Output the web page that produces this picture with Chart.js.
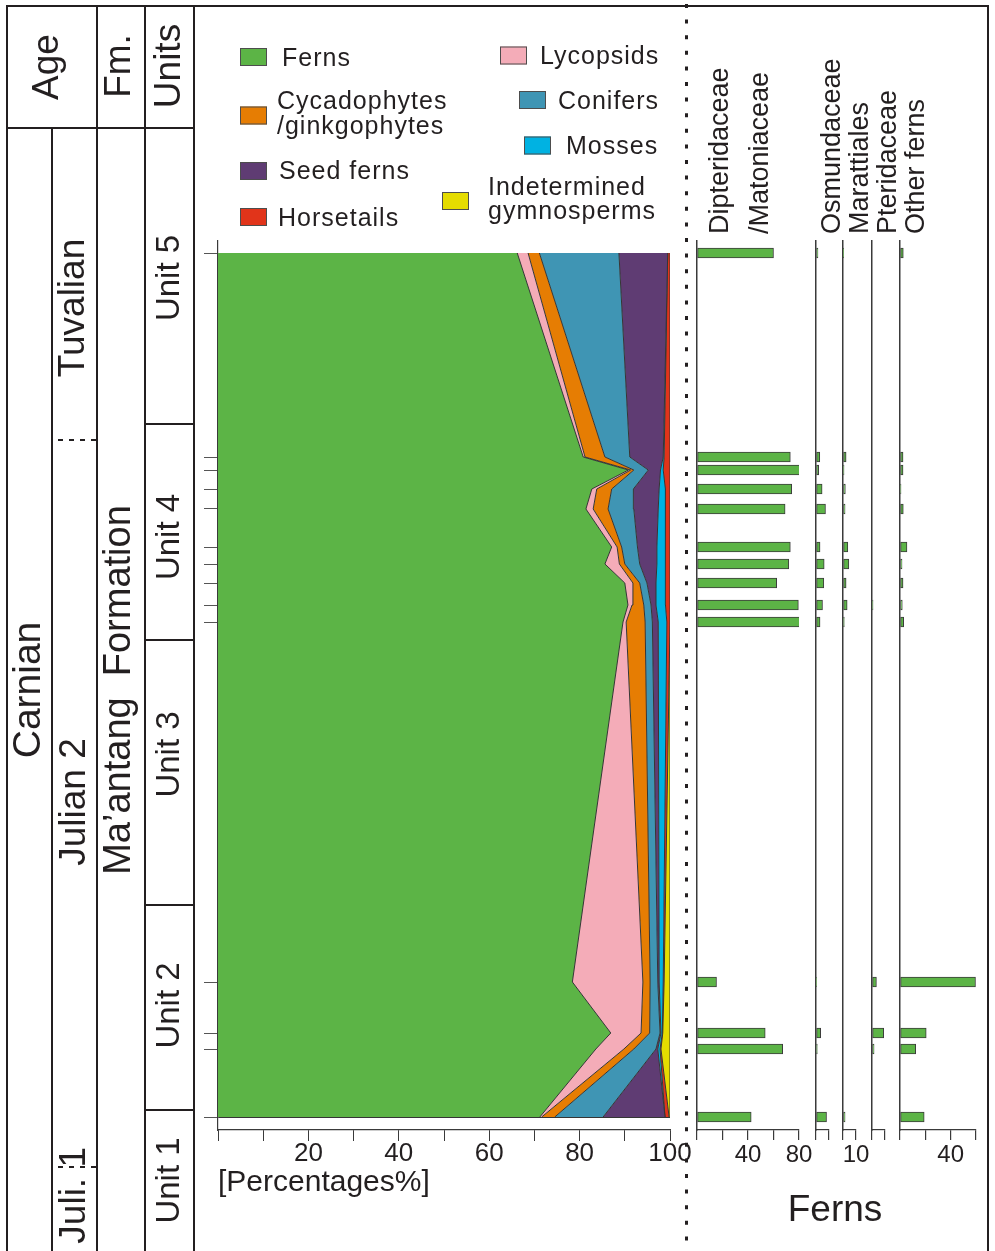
<!DOCTYPE html>
<html lang="en">
<head>
<meta charset="utf-8">
<title>Ma’antang Formation – plant group abundances</title>
<script src="https://cdn.jsdelivr.net/npm/chart.js@4.4.1/dist/chart.umd.min.js"></script>
<style>
  html, body { margin: 0; padding: 0; background: #fff; }
  #page { position: relative; width: 995px; height: 1251px; overflow: hidden; background: #fff; }
  #page canvas { position: absolute; top: 0; }
</style>
</head>
<body>
<div id="page"><canvas id="main" width="995" height="1251" style="left:0"></canvas></div>
<script>
// ---- Section and samples ------------------------------------------------
// Sample heights (m above the lowest sample), lowest first.
const sampleHeights = [0, 17, 21, 33.75, 123.75, 128, 133.5, 138.25, 142.5, 152, 157, 161.75, 165, 216];

// Contacts between Unit 1|2, 2|3, 3|4 and 4|5 (m).
const unitNames = ['Unit 1', 'Unit 2', 'Unit 3', 'Unit 4', 'Unit 5'];
const unitContacts = [1.75, 53, 119.25, 173.25];
// Substage contacts (m): Julian 1|Julian 2 and Julian 2|Tuvalian.
const substageContacts = [-12.5, 169.25];

// ---- Relative abundance of plant groups (%), same order as sampleHeights
const groupNames = ['Ferns', 'Lycopsids', 'Cycadophytes\n/ginkgophytes', 'Conifers',
  'Seed ferns', 'Mosses', 'Horsetails', 'Indetermined\ngymnosperms'];
const ferns            = [71.2, 83.6, 86.9, 78.4, 89.6, 90.7, 90.0, 85.6, 87.1, 81.4, 82.7, 90.8, 80.8, 66.2];
const lycopsids        = [0.4, 6.2, 6.7, 15.6, 0.7, 0.9, 1.8, 3.2, 1.2, 1.6, 1.1, 0.5, 0.4, 2.4];
const cycadophytes     = [2.9, 2.2, 1.9, 1.6, 4.2, 2.6, 1.5, 1.2, 1.0, 3.3, 3.3, 0.7, 4.4, 2.5];
const conifers         = [10.7, 4.9, 2.3, 1.7, 1.6, 1.6, 1.6, 3.3, 3.5, 5.7, 4.8, 3.2, 5.5, 17.6];
const seedFerns        = [13.7, 0.4, 0.2, 0.3, 1.3, 1.1, 2.0, 3.8, 4.3, 5.4, 5.7, 2.7, 7.4, 10.8];
const mosses           = [0, 0.5, 0.3, 0.9, 1.9, 2.1, 2.0, 1.8, 2.0, 1.7, 1.3, 0.6, 0.2, 0];
const horsetails       = [0.9, 0.2, 0.1, 0.2, 0.7, 1.0, 1.1, 1.1, 0.9, 0.9, 1.1, 1.5, 1.3, 0.5];
const indetGymnosperms = [0.2, 2.0, 1.6, 1.3, 0, 0, 0, 0, 0, 0, 0, 0, 0, 0];
const percentTickLabels = [20, 40, 60, 80, 100];

// ---- Fern families (%), same order as sampleHeights ---------------------
const fernTaxa = ['Dipteridaceae\n/Matoniaceae', 'Osmundaceae', 'Marattiales', 'Pteridaceae', 'Other ferns'];
const dipteridaceae = [42.5, 67.2, 53.5, 15.3, 81.9, 79.5, 62.5, 72.0, 73.2, 69.1, 74.3, 82.7, 73.2, 60];
const osmundaceae   = [8.1, 1.0, 3.6, 0.5, 3.1, 5.0, 6.0, 6.3, 3.1, 7.3, 4.7, 2.1, 2.9, 1.5];
const marattiales   = [1.6, 0, 0, 0, 1.0, 3.2, 2.4, 4.5, 3.7, 1.6, 1.8, 0.8, 2.4, 0.3];
const pteridaceae   = [0, 1.6, 9.0, 3.4, 0, 0.8, 0, 0, 0, 0, 0, 0, 0, 0];
const otherFerns    = [19.1, 12.4, 20.7, 59.6, 2.9, 1.8, 2.4, 1.6, 5.5, 2.6, 0.8, 2.4, 2.4, 2.6];
const fernAxisMax   = [80, 10, 10, 10, 60];
const fernAxisStep  = [20, 10, 10, 10, 20];
const fernTickLabels = [[40, 80], [], [10], [], [40]];

// ---- Styling ------------------------------------------------------------
const INK = '#231f20';
const EDGE = '#353535';
const AXIS = '#3a3a3a';
const FONT = '"Liberation Sans", Arial, Helvetica, sans-serif';
const groupColors = ['#5cb446', '#f4acb8', '#e67d03', '#3f95b4', '#5f3c73', '#00b2e2', '#e1341a', '#e5dc00'];
const FERN_GREEN = '#5cb446';

// Vertical frame shared by every panel: plot area from y=241 to y=1130 px.
const Y_MIN = -3.25, Y_MAX = 219;
const PLOT_TOP = 241, AXIS_BAND = 121;

Chart.defaults.font.family = FONT;
Chart.defaults.color = INK;

function vText(ctx, txt, x, y, size, align) {
  ctx.save();
  ctx.translate(x, y);
  ctx.rotate(-Math.PI / 2);
  ctx.font = size + 'px ' + FONT;
  ctx.textAlign = align || 'center';
  ctx.textBaseline = 'middle';
  ctx.fillText(txt, 0, 0);
  ctx.restore();
}

// Stratigraphic columns (Age / Fm. / Units), frame and panel divider.
const stratColumn = {
  id: 'stratColumn',
  afterDraw(chart) {
    const ctx = chart.ctx;
    const py = h => chart.scales.y.getPixelForValue(h);
    const seg = (x1, y1, x2, y2) => { ctx.beginPath(); ctx.moveTo(x1, y1); ctx.lineTo(x2, y2); ctx.stroke(); };
    ctx.save();
    ctx.strokeStyle = INK;
    ctx.lineWidth = 2;
    seg(6, 6, 989, 6);
    seg(7, 6, 7, 1251);
    seg(988, 6, 988, 1251);
    seg(97, 6, 97, 1251);
    seg(145, 6, 145, 1251);
    seg(194, 6, 194, 1251);
    seg(52, 128, 52, 1251);
    seg(7, 128, 194, 128);
    unitContacts.forEach(h => seg(145, py(h), 194, py(h)));

    ctx.setLineDash([5, 6]);
    substageContacts.forEach(h => seg(58, py(h), 96, py(h)));

    // dotted divider between the two panels
    ctx.setLineDash([4, 11.6]);
    ctx.lineWidth = 3;
    seg(686.5, 4, 686.5, 1251);
    ctx.restore();

    ctx.save();
    ctx.fillStyle = INK;
    vText(ctx, 'Age', 48, 67, 37);
    vText(ctx, 'Fm.', 120, 66, 37);
    vText(ctx, 'Units', 170, 66, 37);
    vText(ctx, 'Carnian', 29, 690, 39);
    vText(ctx, 'Tuvalian', 74, 308, 37);
    vText(ctx, 'Julian 2', 75, 802, 37);
    vText(ctx, 'Juli. 1', 75, 1147, 37, 'right');
    vText(ctx, 'Ma’antang  Formation', 120, 690, 38);
    const bounds = [1251].concat(unitContacts.map(py), [128]);
    const nudge = [0, -2, -18, 5, 2];
    unitNames.forEach((u, i) => vText(ctx, u, 170, (bounds[i] + bounds[i + 1]) / 2 + nudge[i], 33));

    ctx.font = '37px ' + FONT;
    ctx.textAlign = 'center';
    ctx.textBaseline = 'middle';
    ctx.fillText('Ferns', 835, 1211);
    ctx.restore();
  }
};

// Two-column legend of the plant groups.
const groupLegend = {
  id: 'groupLegend',
  afterDraw(chart) {
    const ctx = chart.ctx;
    const slots = [
      { bx: 240, by: 48,    tx: 282, ty: [65.7] },
      { bx: 500, by: 46.5,  tx: 540, ty: [64] },
      { bx: 240, by: 106.5, tx: 277, ty: [109.3, 134] },
      { bx: 519, by: 91,    tx: 558, ty: [109.3] },
      { bx: 240, by: 162,   tx: 279, ty: [179.3] },
      { bx: 524, by: 136.5, tx: 566, ty: [154] },
      { bx: 240, by: 208,   tx: 278, ty: [225.7] },
      { bx: 442, by: 192,   tx: 488, ty: [195, 219] }
    ];
    ctx.save();
    ctx.font = '25px ' + FONT;
    ctx.letterSpacing = '1px';
    ctx.textAlign = 'left';
    ctx.textBaseline = 'alphabetic';
    chart.data.datasets.forEach((ds, i) => {
      const s = slots[i];
      ctx.fillStyle = ds.backgroundColor;
      ctx.fillRect(s.bx, s.by, 27, 18);
      ctx.strokeStyle = '#4d4d4d';
      ctx.lineWidth = 1;
      ctx.strokeRect(s.bx + 0.5, s.by + 0.5, 26, 17);
      ctx.fillStyle = INK;
      ds.label.split('\n').forEach((line, k) => ctx.fillText(line, s.tx, s.ty[k]));
    });
    ctx.restore();
  }
};

// ---- Stacked abundance diagram ------------------------------------------
const groupValues = [ferns, lycopsids, cycadophytes, conifers, seedFerns, mosses, horsetails, indetGymnosperms];
const bottomSample = sampleHeights[0];
const topSample = sampleHeights[sampleHeights.length - 1];

new Chart(document.getElementById('main'), {
  type: 'line',
  data: {
    datasets: groupValues.map((vals, i) => ({
      label: groupNames[i],
      data: sampleHeights.map((h, j) => ({ x: vals[j], y: h })),
      fill: i === 0 ? 'origin' : '-1',
      backgroundColor: groupColors[i],
      borderColor: EDGE,
      borderWidth: 1,
      pointRadius: 0,
      tension: 0
    }))
  },
  options: {
    indexAxis: 'y',
    responsive: false,
    animation: false,
    events: [],
    layout: { padding: { left: 204, top: PLOT_TOP, right: 325, bottom: 0 } },
    scales: {
      x: {
        type: 'linear', min: 0, max: 100, stacked: true,
        afterFit: s => { s.height = AXIS_BAND; },
        afterBuildTicks: s => { s.ticks = Array.from({ length: 11 }, (_, k) => ({ value: k * 10 })); },
        ticks: {
          autoSkip: false, maxRotation: 0, minRotation: 0, padding: 0, color: INK,
          font: { size: 26, lineHeight: 1 },
          callback: v => percentTickLabels.includes(v) ? String(v) : ''
        },
        grid: { drawOnChartArea: false, tickLength: 11, color: AXIS, tickColor: AXIS, lineWidth: 1 },
        border: { color: AXIS, width: 1.2 },
        title: { display: true, text: '[Percentages%]', align: 'start', color: INK,
                 font: { size: 30, lineHeight: 1.2 }, padding: { top: 0, bottom: 50 } }
      },
      y: {
        type: 'linear', min: Y_MIN, max: Y_MAX, z: 1,
        afterFit: s => { s.width = 14; },
        afterBuildTicks: s => { s.ticks = sampleHeights.map(v => ({ value: v })); },
        ticks: { display: false },
        grid: {
          drawOnChartArea: true, drawTicks: true, tickLength: 14, lineWidth: 1,
          color: c => (c.tick && (c.tick.value === bottomSample || c.tick.value === topSample)) ? EDGE : 'rgba(0,0,0,0)',
          tickColor: '#555'
        },
        border: { color: AXIS, width: 1.2 }
      }
    },
    plugins: { legend: { display: false }, tooltip: { enabled: false } }
  },
  plugins: [stratColumn, groupLegend]
});

// ---- Fern family bar panels ---------------------------------------------
const fernHeader = {
  id: 'fernHeader',
  afterDraw(chart, args, opts) {
    const { ctx, chartArea } = chart;
    ctx.save();
    ctx.fillStyle = INK;
    ctx.font = '27px ' + FONT;
    ctx.textAlign = 'left';
    ctx.textBaseline = 'alphabetic';
    opts.lines.forEach((t, i) => {
      ctx.save();
      ctx.translate(chartArea.left + opts.offsets[i], opts.bottom);
      ctx.rotate(-Math.PI / 2);
      ctx.fillText(t, 0, 0);
      ctx.restore();
    });
    ctx.restore();
  }
};

const fernSeries = [dipteridaceae, osmundaceae, marattiales, pteridaceae, otherFerns];
const fernAxisX = [697, 816, 843, 872, 900];
const fernHeaderOffsets = [[31, 71], [23.5], [24.5], [23.5], [24]];
const PX_PER_PCT = 1.27;
const SIDE = 40;
const page = document.getElementById('page');

fernSeries.forEach((vals, k) => {
  const plotW = Math.round(fernAxisMax[k] * PX_PER_PCT);
  const cv = document.createElement('canvas');
  cv.width = plotW + 2 * SIDE;
  cv.height = 1251;
  cv.style.left = (fernAxisX[k] - SIDE) + 'px';
  page.appendChild(cv);
  const step = fernAxisStep[k];
  new Chart(cv, {
    type: 'bar',
    data: {
      datasets: [{
        label: fernTaxa[k].replace('\n', ' '),
        data: sampleHeights.map((h, j) => ({ x: vals[j], y: h })),
        backgroundColor: FERN_GREEN,
        borderColor: '#3c3c3c',
        borderWidth: 1,
        borderSkipped: false,
        barThickness: 10
      }]
    },
    options: {
      indexAxis: 'y',
      responsive: false,
      animation: false,
      events: [],
      layout: { padding: { left: SIDE, right: SIDE, top: PLOT_TOP, bottom: 0 } },
      scales: {
        x: {
          type: 'linear', min: 0, max: fernAxisMax[k],
          afterFit: s => { s.height = AXIS_BAND; },
          afterBuildTicks: s => {
            s.ticks = [];
            for (let v = 0; v <= fernAxisMax[k]; v += step) s.ticks.push({ value: v });
          },
          ticks: {
            autoSkip: false, maxRotation: 0, minRotation: 0, padding: 3, color: INK,
            font: { size: 24, lineHeight: 1 },
            callback: v => fernTickLabels[k].includes(v) ? String(v) : ''
          },
          grid: { drawOnChartArea: false, tickLength: 10, color: AXIS, tickColor: AXIS, lineWidth: 1.2 },
          border: { color: AXIS, width: 1.2 }
        },
        y: {
          type: 'linear', min: Y_MIN, max: Y_MAX, offset: false,
          afterFit: s => { s.width = 0; },
          ticks: { display: false },
          grid: { drawOnChartArea: false, drawTicks: false, color: 'rgba(0,0,0,0)' },
          border: { display: true, color: AXIS, width: 1.5 }
        }
      },
      plugins: {
        legend: { display: false },
        tooltip: { enabled: false },
        fernHeader: { lines: fernTaxa[k].split('\n'), offsets: fernHeaderOffsets[k], bottom: 234 }
      }
    },
    plugins: [fernHeader]
  });
});
</script>
</body>
</html>
